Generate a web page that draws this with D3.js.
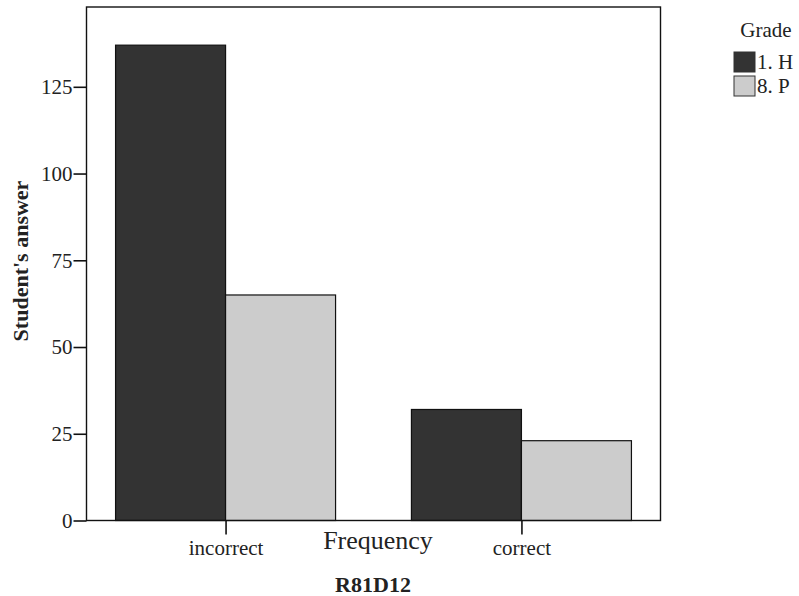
<!DOCTYPE html>
<html><head><meta charset="utf-8">
<script src="https://cdn.jsdelivr.net/npm/d3@7"></script>
<style>body{margin:0;background:#fff}svg text{font-family:"Liberation Serif","Times New Roman",serif}</style>
</head><body><svg id="c" width="799" height="596"></svg>
<script>
const categories = ["incorrect", "correct"];
const seriesNames = ["1. H", "8. P"];
const valuesH = [137, 32];
const valuesP = [65, 23];
const yTicks = [0, 25, 50, 75, 100, 125];
const colors = ["#333333", "#cccccc"];

const svg = d3.select("#c");
const L = 86.5, R = 660.5, T = 7, B = 520.5;
const x = d3.scalePoint().domain(categories).range([L, R]).padding(0.47);
const y = d3.scaleLinear().domain([0, 148]).range([B, T]);
const barW = 110;

const data = [];
categories.forEach((c, i) => {
  data.push({c, s: 0, v: valuesH[i]});
  data.push({c, s: 1, v: valuesP[i]});
});

svg.append("g").selectAll("rect").data(data).join("rect")
  .attr("x", d => x(d.c) + (d.s === 0 ? -barW : 0))
  .attr("y", d => y(d.v))
  .attr("width", barW)
  .attr("height", d => B - y(d.v))
  .attr("fill", d => colors[d.s])
  .attr("stroke", "#111").attr("stroke-width", 1.2);

// frame
svg.append("rect").attr("x", L).attr("y", T).attr("width", R - L).attr("height", B - T)
  .attr("fill", "none").attr("stroke", "#111").attr("stroke-width", 1.4);

const yAxis = svg.append("g").attr("transform", `translate(${L},0)`)
  .call(d3.axisLeft(y).tickValues(yTicks).tickSize(13).tickPadding(1));
yAxis.select(".domain").remove();
yAxis.selectAll("line").attr("stroke", "#111").attr("stroke-width", 1.6);
yAxis.selectAll("text").attr("font-size", 21).attr("fill", "#222")
  .attr("font-family", "Liberation Serif");

const xAxis = svg.append("g").attr("transform", `translate(0,${B})`)
  .call(d3.axisBottom(x).tickSize(14).tickPadding(6));
xAxis.select(".domain").remove();
xAxis.selectAll("line").attr("stroke", "#111").attr("stroke-width", 1.6);
xAxis.selectAll("text").attr("font-size", 21).attr("fill", "#222")
  .attr("font-family", "Liberation Serif");

svg.append("text").attr("x", 378).attr("y", 549).attr("text-anchor", "middle")
  .attr("font-size", 26).attr("fill", "#222").text("Frequency");
svg.append("text").attr("x", 373).attr("y", 592).attr("text-anchor", "middle")
  .attr("font-size", 22).attr("font-weight", "bold").attr("fill", "#222").text("R81D12");
svg.append("text").attr("transform", "translate(28,261) rotate(-90)").attr("text-anchor", "middle")
  .attr("font-size", 22).attr("font-weight", "bold").attr("fill", "#222").text("Student's answer");

// legend
const lg = svg.append("g");
lg.append("text").attr("x", 766).attr("y", 37).attr("text-anchor", "middle")
  .attr("font-size", 21).attr("fill", "#222").text("Grade");
seriesNames.forEach((s, i) => {
  lg.append("rect").attr("x", 734).attr("y", 52 + i * 24).attr("width", 21).attr("height", 20)
    .attr("fill", colors[i]).attr("stroke", "#333").attr("stroke-width", 1);
  lg.append("text").attr("x", 757).attr("y", 69 + i * 24).attr("font-size", 21)
    .attr("fill", "#222").text(s);
});
</script></body></html>
